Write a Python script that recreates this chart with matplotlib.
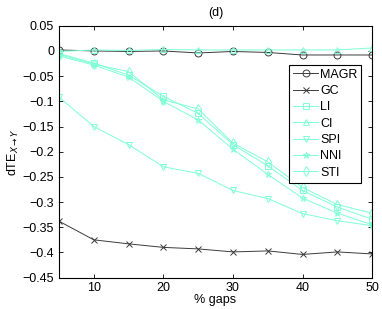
import numpy as np
import matplotlib
matplotlib.use("Agg")
import matplotlib.pyplot as plt

plt.rcParams['font.family'] = ['Liberation Sans', 'DejaVu Sans']

gaps = [5, 10, 15, 20, 25, 30, 35, 40, 45, 50]

magr = [0.002, 0.0, -0.001, 0.0, -0.004, -0.001, -0.003, -0.008, -0.008, -0.008]
gc = [-0.338, -0.375, -0.383, -0.39, -0.393, -0.399, -0.397, -0.404, -0.399, -0.403]
li = [-0.005, -0.024, -0.048, -0.09, -0.124, -0.186, -0.228, -0.277, -0.31, -0.334]
ci = [-0.001, 0.002, 0.001, 0.003, 0.002, 0.002, 0.002, 0.002, 0.002, 0.006]
spi = [-0.092, -0.15, -0.186, -0.23, -0.243, -0.277, -0.293, -0.323, -0.337, -0.347]
nni = [-0.01, -0.028, -0.052, -0.1, -0.137, -0.195, -0.245, -0.292, -0.322, -0.345]
sti = [-0.007, -0.026, -0.041, -0.097, -0.115, -0.183, -0.22, -0.271, -0.305, -0.322]

dark = '#3c3c3c'
aqua = '#7fffd4'

fig = plt.figure(figsize=(3.82, 3.09), dpi=100)
ax = fig.add_axes([0.1545, 0.1016, 0.8195, 0.815])

kw = dict(lw=0.7, ms=5, mfc='none', mew=0.7)
ax.plot(gaps, magr, '-o', color=dark, label='MAGR', **kw)
ax.plot(gaps, gc, '-x', color=dark, label='GC', **kw)
ax.plot(gaps, li, '-s', color=aqua, label='LI', **kw)
ax.plot(gaps, ci, '-^', color=aqua, label='CI', **kw)
ax.plot(gaps, spi, '-v', color=aqua, label='SPI', **kw)
ax.plot(gaps, nni, '-*', color=aqua, label='NNI', **kw)
ax.plot(gaps, sti, '-d', color=aqua, label='STI', **kw)

ax.set_xlim(5, 50)
ax.set_ylim(-0.45, 0.05)
ax.set_xticks([10, 20, 30, 40, 50])
ax.set_yticks(np.arange(-0.45, 0.051, 0.05))
ax.set_yticklabels(['−0.45', '−0.4', '−0.35', '−0.3', '−0.25', '−0.2', '−0.15',
                    '−0.1', '−0.05', '0', '0.05'])
ax.tick_params(direction='in', top=True, right=True, labelsize=9, length=3, width=0.6)
for s in ax.spines.values():
    s.set_linewidth(0.8)

ax.set_title('(d)', fontsize=9, pad=7)
ax.set_xlabel('% gaps', fontsize=9, labelpad=0)
ax.set_ylabel(r'dTE$_{X\rightarrow Y}$', fontsize=9, labelpad=1)

leg = ax.legend(loc='upper right', bbox_to_anchor=(0.965, 0.845), fontsize=9,
                fancybox=False, edgecolor='black', framealpha=1,
                handlelength=2.0, handletextpad=0.15, labelspacing=0.35,
                borderpad=0.3, borderaxespad=0)
leg.get_frame().set_linewidth(0.8)

fig.savefig('out.png', dpi=100)
